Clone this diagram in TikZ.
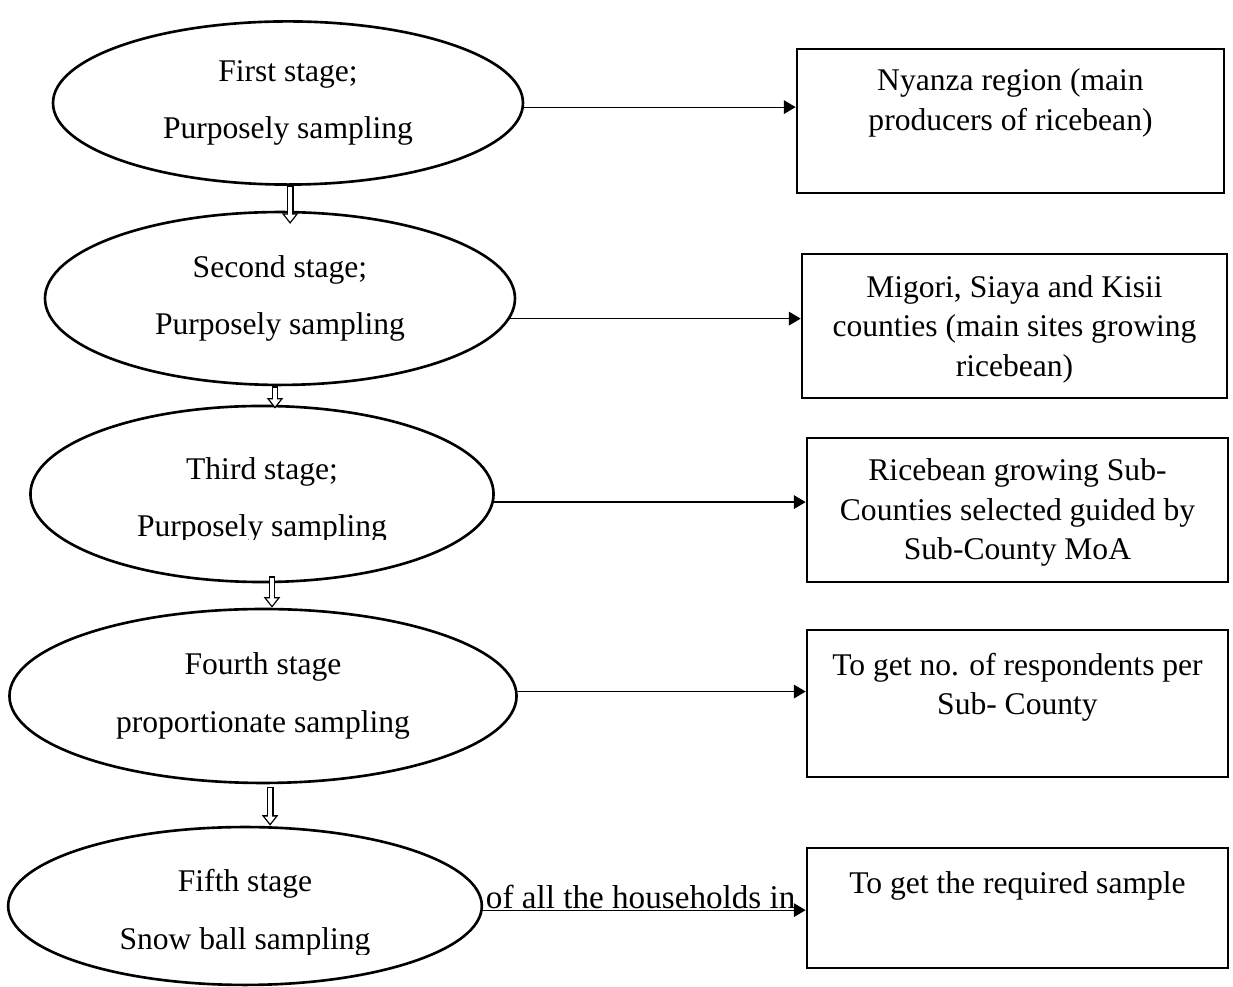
\documentclass[tikz,border=0pt]{standalone}
\usepackage{fontspec}
\setmainfont{Liberation Serif}
\usetikzlibrary{shapes.geometric,arrows.meta,positioning}

\begin{document}
\begin{tikzpicture}[x=0.38pt,y=-0.38pt,
  font=\fontsize{12}{15}\selectfont,
  stage/.style={draw,line width=1pt,ellipse,inner sep=0pt,align=center},
  stagetext/.style={inner sep=0pt,align=center},
  result/.style={draw,line width=1pt,inner sep=0pt},
  resulttext/.style={inner sep=0pt,align=center},
  link/.style={line width=0.45pt,-{Triangle[length=4.5pt,width=5.2pt]}},
  down/.style={line width=1.6pt,white,shorten >=0.83pt,shorten <=0.5pt,
    -{Triangle[length=2.67pt,width=4pt]},
    preaction={draw=black,line width=2.6pt,shorten >=0pt,shorten <=0pt,
      -{Triangle[length=4pt,width=6pt]}}}]
  \useasboundingbox (0,0) rectangle (1233,987);

  % the five stages
  \node[stage,minimum width=178.6pt,minimum height=62pt] (s1) at (288,103)
    {First stage;\\[7pt]Purposely sampling};
  \node[stage,minimum width=178.6pt,minimum height=65.7pt] (s2) at (280,298.5)
    {Second stage;\\[7pt]Purposely sampling};
  \node[stage,minimum width=176pt,minimum height=66.9pt] (s3) at (262,494) {};
  \begin{scope}
    \clip (0,420) rectangle (520,540);
    \node[stagetext] (s3t) at (262,500.5) {Third stage;\\[7pt]Purposely sampling};
  \end{scope}
  \node[stage,minimum width=192.7pt,minimum height=66.1pt] (s4) at (263,696)
    {Fourth stage\\[7pt]proportionate sampling};
  \node[stage,minimum width=180pt,minimum height=60pt] (s5) at (245,906) {};
  \begin{scope}
    \clip (0,840) rectangle (520,955);
    \node[stagetext] (s5t) at (245,913) {Fifth stage\\[7pt]Snow ball sampling};
  \end{scope}

  % what each stage gives
  \node[result,minimum width=162.3pt,minimum height=54.7pt] (b1) at (1010.5,121) {};
  \node[result,minimum width=161.5pt,minimum height=54.7pt] (b2) at (1014.5,326) {};
  \node[result,minimum width=160pt,minimum height=54.7pt] (b3) at (1017.5,510) {};
  \node[result,minimum width=160pt,minimum height=55.9pt] (b4) at (1017.5,703.5) {};
  \node[result,minimum width=160pt,minimum height=45.6pt] (b5) at (1017.5,908) {};

  \node[resulttext,below=7.8pt of b1.north] (b1t)
    {Nyanza region (main\\producers of ricebean)};
  \node[resulttext,below=8.5pt of b2.north] (b2t)
    {Migori, Siaya and Kisii\\counties (main sites growing\\ricebean)};
  \node[resulttext,below=8.2pt of b3.north] (b3t)
    {Ricebean growing Sub-\\Counties selected guided by\\Sub-County MoA};
  \node[resulttext,below=9pt of b4.north] (b4t)
    {To get no. of respondents per\\Sub- County};
  \node[resulttext,below=9.2pt of b5.north] (b5t)
    {To get the required sample};

  % links
  \draw[link] (s1.-1) -- (s1.-1 -| b1.west);
  \draw[link] (s2.-5) -- (s2.-5 -| b2.west);
  \draw[link] (s3.-2) -- (s3.-2 -| b3.west);
  \draw[link] (s4.1) -- (s4.1 -| b4.west);
  \node[anchor=base west,inner sep=0pt,font=\fontsize{12.6}{15}\selectfont] (hh)
    at ([xshift=1pt,yshift=0.8pt]s5.-1) {of all the households in};
  \draw[link] (s5.-1) -- (s5.-1 -| b5.west);

  \draw[down] ([xshift=0.8pt]s1.south) -- ([xshift=0.8pt,yshift=-5pt]s1.south |- s2.north);
  \draw[down] ([xshift=-1.9pt]s2.south) -- ([xshift=-1.9pt,yshift=-1.5pt]s2.south |- s3.north);
  \draw[down] ([xshift=3.8pt,yshift=2.7pt]s3.south) -- ([xshift=3.8pt]s3.south |- s4.north);
  \draw[down] ([xshift=2.7pt,yshift=-1pt]s4.south) -- ([xshift=2.7pt]s4.south |- s5.north);
\end{tikzpicture}
\end{document}
